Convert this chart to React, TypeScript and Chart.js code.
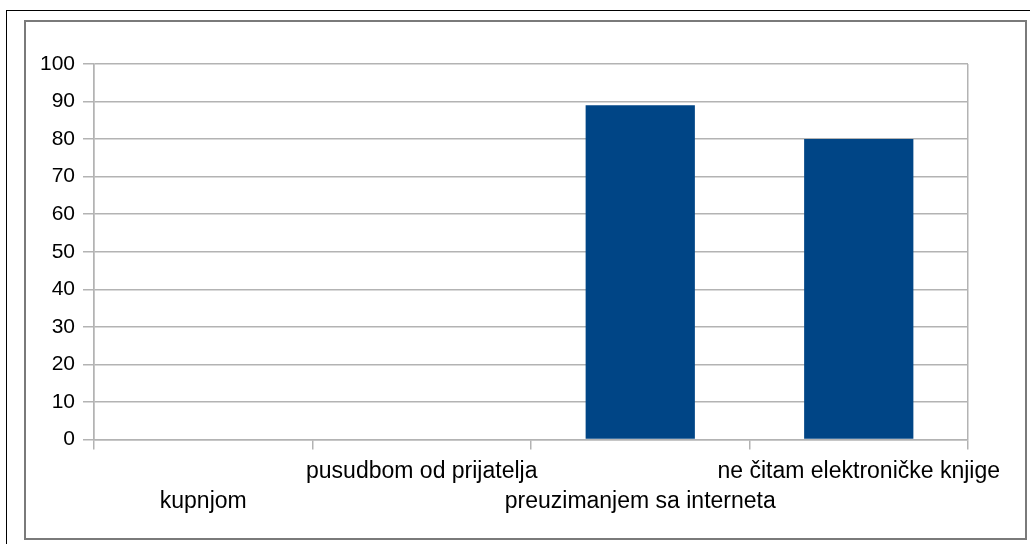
import React, { useEffect, useRef } from "react";
import { Chart, registerables } from "chart.js";

Chart.register(...registerables);

const categories: string[] = [
  "kupnjom",
  "pusudbom od prijatelja",
  "preuzimanjem sa interneta",
  "ne čitam elektroničke knjige",
];
const values: number[] = [0, 0, 89, 80];
const yMin = 0;
const yMax = 100;
const yStep = 10;

const GRID = "#b3b3b3";
const BAR = "#004586";
const FONT = "'Liberation Sans', Arial, sans-serif";

export default function App() {
  const ref = useRef<HTMLCanvasElement | null>(null);

  useEffect(() => {
    if (!ref.current) return;
    const chart = new Chart(ref.current, {
      type: "bar",
      data: {
        labels: categories,
        datasets: [
          {
            data: values,
            backgroundColor: BAR,
            borderWidth: 0,
            barPercentage: 0.5,
            categoryPercentage: 1.0,
          },
        ],
      },
      options: {
        responsive: false,
        animation: false,
        devicePixelRatio: 1,
        layout: { padding: { left: 24, right: 62, top: 64, bottom: 24.5 } },
        plugins: {
          legend: { display: false },
          title: { display: false },
          tooltip: { enabled: false },
        },
        scales: {
          x: {
            offset: true,
            grid: {
              offset: true,
              drawOnChartArea: true,
              drawTicks: true,
              tickLength: 10,
              lineWidth: 1.5,
              color: (ctx: any) =>
                ctx.type === "tick" && ctx.index > 0 ? "transparent" : GRID,
              tickColor: GRID,
            },
            border: { display: true, color: GRID, width: 1.5 },
            ticks: {
              autoSkip: false,
              maxRotation: 0,
              minRotation: 0,
              padding: 7,
              color: "#000",
              font: { family: FONT, size: 23, lineHeight: 1.304 },
              callback: (_v: any, i: number) =>
                i % 2 === 0 ? ["", categories[i]] : [categories[i]],
            },
            afterFit: (scale: any) => {
              scale.height = 80;
            },
          },
          y: {
            min: yMin,
            max: yMax,
            grid: {
              color: GRID,
              lineWidth: 1.5,
              tickLength: 11,
              drawTicks: true,
            },
            border: { display: true, color: GRID, width: 1.5 },
            ticks: {
              stepSize: yStep,
              padding: 8,
              color: "#000",
              font: { family: FONT, size: 21 },
            },
            afterFit: (scale: any) => {
              scale.width = 70;
            },
          },
        },
      },
    });
    return () => chart.destroy();
  }, []);

  return (
    <div
      style={{
        position: "absolute",
        left: 0,
        top: 0,
        width: 1030,
        height: 544,
        overflow: "hidden",
        background: "#fff",
      }}
    >
      <div
        style={{
          position: "absolute",
          left: 6,
          top: 10,
          right: -10,
          bottom: -10,
          border: "1px solid #000",
        }}
      />
      <div
        style={{
          position: "absolute",
          left: 24,
          top: 20,
          width: 1003,
          height: 520,
          boxSizing: "border-box",
          border: "2px solid #7a7a7a",
        }}
      />
      <canvas
        ref={ref}
        width={1030}
        height={544}
        style={{ position: "absolute", left: 0, top: 0, width: 1030, height: 544 }}
      />
    </div>
  );
}
